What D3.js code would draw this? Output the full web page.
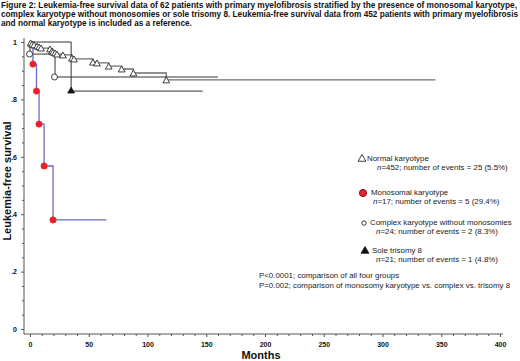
<!DOCTYPE html>
<html><head><meta charset="utf-8">
<script src="https://cdn.jsdelivr.net/npm/d3@7"></script>
<style>
html,body{margin:0;padding:0;background:#fff;}
text{font-family:"Liberation Sans",Arial,sans-serif;}
</style></head>
<body>
<svg id="c" width="520" height="361"></svg>
<script>
// ---------- data ----------
const titleLines = [
  "Figure 2: Leukemia-free survival data of 62 patients with primary myelofibrosis stratified by the presence of monosomal karyotype,",
  "complex karyotype without monosomies or sole trisomy 8. Leukemia-free survival data from 452 patients with primary myelofibrosis",
  "and normal karyotype is included as a reference."
];
const xTicks = [0, 50, 100, 150, 200, 250, 300, 350, 400];
const yTicks = [0, 0.2, 0.4, 0.6, 0.8, 1];
const yTickLabels = ["0", ".2", ".4", ".6", ".8", "1"];

// Normal karyotype (event times in months, survival after step)
const normalTimes = [0.5, 1.7, 3.4, 6, 7.7, 9.4, 17, 18.7, 19.6, 21.3, 23, 28, 35.7, 37.4, 53.6, 57, 67, 78, 88, 116];
const normalSurv  = [0.997, 0.993, 0.990, 0.986, 0.983, 0.979, 0.976, 0.969, 0.965, 0.962, 0.958, 0.955, 0.944, 0.941, 0.930, 0.927, 0.916, 0.906, 0.892, 0.868];
const normalEnd = 345;

// Monosomal karyotype
const monoTimes = [2.5, 5.5, 7.7, 12, 19.6];
const monoSurv  = [0.923, 0.829, 0.714, 0.568, 0.380];
const monoEnd = 65;

// Complex karyotype without monosomies
const complexTimes = [0, 21.3];
const complexSurv  = [0.958, 0.878];
const complexEnd = 160;

// Sole trisomy 8
const trisomyTimes = [35];
const trisomySurv  = [0.829];
const trisomyEnd = 147;

const legendItems = [
  {name: "Normal karyotype", n: "452", detail: "; number of events = 25 (5.5%)", sym: "tri-open"},
  {name: "Monosomal karyotype", n: "17", detail: "; number of events = 5 (29.4%)", sym: "dot-red"},
  {name: "Complex karyotype without monosomies", n: "24", detail: "; number of events = 2 (8.3%)", sym: "circle-open"},
  {name: "Sole trisomy 8", n: "21", detail: "; number of events = 1 (4.8%)", sym: "tri-filled"}
];
const pLines = [
  "P<0.0001; comparison of all four groups",
  "P=0.002; comparison of monosomy karyotype vs. complex vs. trisomy 8"
];

// ---------- drawing ----------
const svg = d3.select("#c");
const x = d3.scaleLinear().domain([0, 400]).range([30, 500]);
const y = d3.scaleLinear().domain([0, 1]).range([329, 42]);

function fit(sel, w) {
  const cur = sel.node().getComputedTextLength();
  const fs = parseFloat(sel.attr("font-size"));
  const nf = fs * w / cur;
  sel.attr("font-size", nf.toFixed(2));
  return nf;
}

// title
const titleW = [516, 517, 191];
titleLines.forEach((t, i) => {
  const s = svg.append("text").attr("x", 1).attr("y", 8 + i * 9.2)
    .attr("font-size", 8).attr("font-weight", "bold").attr("fill", "#111").text(t);
  fit(s, titleW[i]);
});

// axes
const axisX0 = 24, axisY0 = 334;
svg.append("line").attr("x1", axisX0).attr("x2", axisX0).attr("y1", 38).attr("y2", axisY0)
  .attr("stroke", "#555").attr("stroke-width", 1);
svg.append("line").attr("x1", axisX0).attr("x2", 503).attr("y1", axisY0).attr("y2", axisY0)
  .attr("stroke", "#555").attr("stroke-width", 1);

const gx = svg.append("g").attr("transform", `translate(0,${axisY0})`)
  .call(d3.axisBottom(x).tickValues(xTicks).tickSize(3).tickPadding(5).tickFormat(d3.format("d")));
const gxm = svg.append("g").attr("transform", `translate(0,${axisY0})`)
  .call(d3.axisBottom(x).tickValues(d3.range(0, 401, 10).filter(v => v % 50)).tickSize(2).tickFormat(""));
const gy = svg.append("g").attr("transform", `translate(${axisX0},0)`)
  .call(d3.axisLeft(y).tickValues(yTicks).tickSize(3).tickPadding(4).tickFormat((d, i) => yTickLabels[i]));
const gym = svg.append("g").attr("transform", `translate(${axisX0},0)`)
  .call(d3.axisLeft(y).tickValues(d3.range(0, 21).map(v => v / 20).filter(v => Math.round(v * 20) % 4)).tickSize(2).tickFormat(""));
[gx, gxm, gy, gym].forEach(g => {
  g.select(".domain").remove();
  g.selectAll("line").attr("stroke", "#555");
  g.selectAll("text").attr("font-size", 7).attr("font-weight", "bold").attr("fill", "#111")
    .attr("font-family", "'Liberation Sans',Arial,sans-serif");
});

svg.append("text").attr("transform", `translate(11,181) rotate(-90)`).attr("text-anchor", "middle")
  .attr("font-size", 11).attr("font-weight", "bold").attr("fill", "#111").text("Leukemia-free survival");
svg.append("text").attr("x", 261).attr("y", 359).attr("text-anchor", "middle")
  .attr("font-size", 11).attr("font-weight", "bold").attr("fill", "#111").text("Months");

// step curves
function stepPts(times, surv, end) {
  const pts = [[0, 1]];
  let prev = 1;
  times.forEach((t, i) => { pts.push([t, prev]); pts.push([t, surv[i]]); prev = surv[i]; });
  pts.push([end, prev]);
  return pts;
}
const line = d3.line().x(d => x(d[0])).y(d => y(d[1]));

svg.append("path").attr("d", line(stepPts(normalTimes, normalSurv, normalEnd)))
  .attr("fill", "none").attr("stroke", "#6e6e6e").attr("stroke-width", 1.3);
svg.append("path").attr("d", line(stepPts(trisomyTimes, trisomySurv, trisomyEnd)))
  .attr("fill", "none").attr("stroke", "#333").attr("stroke-width", 1);
svg.append("path").attr("d", line(stepPts(complexTimes, complexSurv, complexEnd)))
  .attr("fill", "none").attr("stroke", "#333").attr("stroke-width", 1);
svg.append("path").attr("d", line(stepPts(monoTimes, monoSurv, monoEnd)))
  .attr("fill", "none").attr("stroke", "#6a6ac8").attr("stroke-width", 1.3);

function drawSym(g, kind, cx, cy, big) {
  const k = big ? 1.15 : 1;
  if (kind === "tri-open" || kind === "tri-filled") {
    g.append("path").attr("d", d3.symbol().type(d3.symbolTriangle).size(20 * k * k)())
      .attr("transform", `translate(${cx},${cy})`)
      .attr("fill", kind === "tri-open" ? "#fff" : "#111").attr("stroke", "#111").attr("stroke-width", 0.8);
  } else if (kind === "dot-red") {
    g.append("circle").attr("cx", cx).attr("cy", cy).attr("r", big ? 3.6 : 3.2)
      .attr("fill", "#e8202a").attr("stroke", big ? "#8a1020" : "#e8202a").attr("stroke-width", big ? 1 : 0.5);
  } else if (kind === "circle-open") {
    g.append("circle").attr("cx", cx).attr("cy", cy).attr("r", big ? 2.2 : 3)
      .attr("fill", "#fff").attr("stroke", "#111").attr("stroke-width", 0.8);
  }
}
const mk = svg.append("g");
normalTimes.forEach((t, i) => drawSym(mk, "tri-open", x(t), y(normalSurv[i]) + 1, false));
complexTimes.forEach((t, i) => drawSym(mk, "circle-open", x(t) - 0.5, y(complexSurv[i]), false));
trisomyTimes.forEach((t, i) => drawSym(mk, "tri-filled", x(t), y(trisomySurv[i]), false));
monoTimes.forEach((t, i) => drawSym(mk, "dot-red", x(t), y(monoSurv[i]), false));

// legend
const leg = svg.append("g");
const legY = [158, 192, 222, 250];
const symX = [362, 363, 364, 365];
const nameX = [367, 371, 370, 372];
const detX = [377, 373, 376, 376];
// common legend font size from first detail line width
const probe = svg.append("text").attr("font-size", 8).text("n=452; number of events = 25 (5.5%)");
const legFs = fit(probe, 131);
probe.remove();
legendItems.forEach((d, i) => {
  drawSym(leg, d.sym, symX[i], legY[i] + 1, true);
  leg.append("text").attr("x", nameX[i]).attr("y", legY[i] + 3)
    .attr("font-size", legFs).attr("fill", "#222").text(d.name);
  const b = leg.append("text").attr("x", detX[i]).attr("y", legY[i] + 12).attr("font-size", legFs).attr("fill", "#222");
  b.append("tspan").attr("font-style", "italic").text("n");
  b.append("tspan").text("=" + d.n + d.detail);
});
pLines.forEach((t, i) => {
  svg.append("text").attr("x", 259).attr("y", 278 + i * 10)
    .attr("font-size", legFs).attr("fill", "#222").text(t);
});
</script>
</body></html>
